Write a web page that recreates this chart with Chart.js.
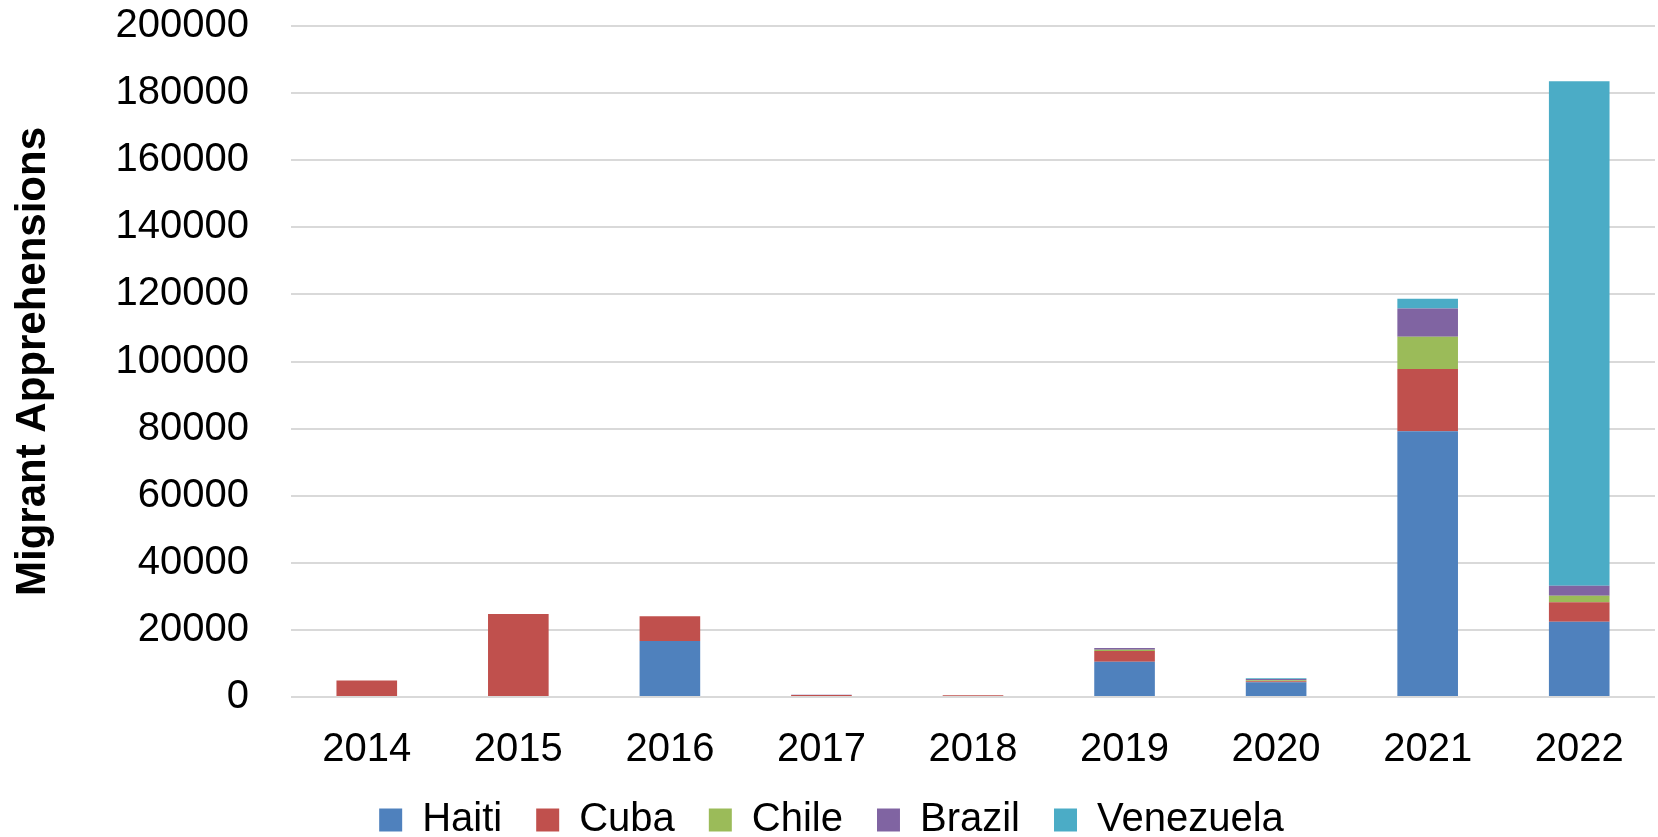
<!DOCTYPE html>
<html>
<head>
<meta charset="utf-8">
<script src="https://cdn.jsdelivr.net/npm/chart.js@4.4.0/dist/chart.umd.min.js"></script>
<style>
  html, body { margin: 0; padding: 0; background: #ffffff; }
  #wrap { width: 1658px; height: 837px; position: relative; }
</style>
</head>
<body>
<div id="wrap"><canvas id="c" width="1658" height="837"></canvas></div>
<script>
const years = ['2014', '2015', '2016', '2017', '2018', '2019', '2020', '2021', '2022'];
const haiti = [0, 0, 16700, 0, 0, 10500, 4400, 79200, 22400];
const cuba = [4900, 24750, 7400, 600, 550, 3200, 300, 18600, 5850];
const chile = [0, 0, 0, 0, 0, 400, 300, 9600, 1900];
const brazil = [0, 0, 0, 100, 0, 500, 400, 8400, 3000];
const venezuela = [0, 0, 0, 0, 0, 0, 200, 2900, 150400];

const seriesNames = ['Haiti', 'Cuba', 'Chile', 'Brazil', 'Venezuela'];
const seriesColors = ['#4F81BD', '#C0504D', '#9BBB59', '#8064A2', '#4BACC6'];
const seriesData = [haiti, cuba, chile, brazil, venezuela];

const FONT = "'Liberation Sans', Arial, sans-serif";

new Chart(document.getElementById('c'), {
  type: 'bar',
  data: {
    labels: years,
    datasets: seriesNames.map((n, i) => ({
      label: n,
      data: seriesData[i],
      backgroundColor: seriesColors[i],
      borderWidth: 0,
      categoryPercentage: 1.0,
      barPercentage: 0.4
    }))
  },
  options: {
    responsive: false,
    animation: false,
    devicePixelRatio: 1,
    layout: { autoPadding: false, padding: { left: 8, right: 3, top: 26, bottom: -13 } },
    plugins: {
      tooltip: { enabled: false },
      legend: {
        position: 'bottom',
        labels: {
          color: '#000000',
          font: { family: FONT, size: 40 },
          boxWidth: 23,
          boxHeight: 23,
          padding: 34
        }
      }
    },
    scales: {
      x: {
        stacked: true,
        grid: { display: false, drawTicks: false },
        border: { display: false },
        ticks: {
          color: '#000000',
          font: { family: FONT, size: 40, lineHeight: 1.0 },
          padding: 33,
          maxRotation: 0
        },
        afterFit: s => { s.height = 69; }
      },
      y: {
        stacked: true,
        min: 0,
        max: 200000,
        grid: { color: '#D9D9D9', lineWidth: 2, drawTicks: false },
        border: { display: false },
        ticks: {
          stepSize: 20000,
          color: '#000000',
          font: { family: FONT, size: 40 },
          padding: 42,
          callback: v => String(v)
        },
        title: {
          display: true,
          text: 'Migrant Apprehensions',
          color: '#000000',
          font: { family: FONT, size: 42, weight: 'bold' },
          padding: { top: 0, bottom: 13 }
        },
        afterFit: s => { s.width = 283; s.paddingTop = 0; s.paddingBottom = 0; }
      }
    }
  }
});
</script>
</body>
</html>
